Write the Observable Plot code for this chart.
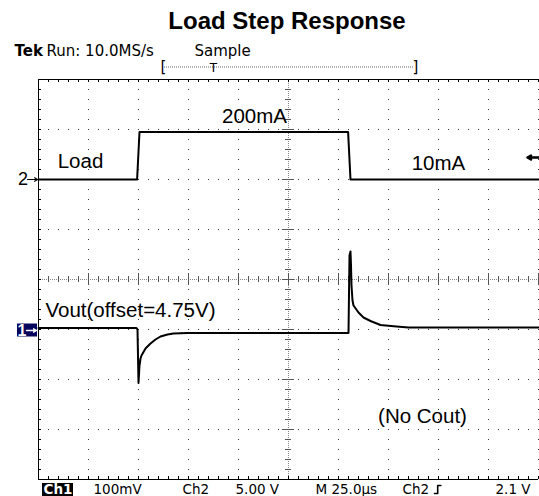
<!DOCTYPE html>
<html>
<head>
<meta charset="utf-8">
<script src="https://cdn.jsdelivr.net/npm/d3@7"></script>
<script src="https://cdn.jsdelivr.net/npm/@observablehq/plot@0.6"></script>
<style>
  html, body { margin: 0; padding: 0; background: #fff; }
  #title { box-sizing: border-box; width: 539px; height: 40px; padding-left: 35px; text-align: center;
           font: bold 24px "Liberation Sans", Arial, sans-serif; line-height: 42px; color: #000; }
  svg { display: block; }
</style>
</head>
<body>
<div id="title">Load Step Response</div>
<div id="chart"></div>
<script>
// ---- data ----
// time axis: 25 µs/div, 10 divisions
const timeDivs = d3.range(0, 251, 25);
const timeMinor = d3.range(0, 250.01, 5);
const vertDivs = d3.range(-4, 5, 1);
const vertMinor = d3.range(-4, 4.001, 0.2);

// Ch2 (load current, mA)
const loadTime = [0, 49.3, 50.5, 154.8, 156, 250];
const loadMA   = [10, 10, 200, 200, 10, 10];
const ch2Marker = 2;        // divisions
const ch2PerDiv = 200;      // mA per division
const ch2Ref = 10;          // mA at marker

// Ch1 (Vout, mV relative to 4.75 V offset)
const voutTime = [0, 49, 49.5, 50, 50.5, 51, 51.5, 53.5, 56, 58.5, 61, 64.5, 67.5, 74.5,
                  155, 155.5, 156, 156.25, 156.5, 157, 157.5, 160, 162.5, 166, 171, 179, 185, 250];
const voutMV   = [5, 5, 2, -105, -70, -56, -50, -36, -26, -18, -12, -8, -6, -5,
                  -5, 150, 158, 130, 90, 60, 50, 36, 26, 19, 11, 8, 6, 6];
const ch1Marker = -1.02;    // divisions
const ch1PerDiv = 100;      // mV per division
const trigLevel = 2.44;     // divisions (Ch2 2.1 V)

const load = loadTime.map((t, i) => ({t, v: ch2Marker + (loadMA[i] - ch2Ref) / ch2PerDiv}));
const vout = voutTime.map((t, i) => ({t, v: ch1Marker + voutMV[i] / ch1PerDiv}));

const centerLabels = [
  {t: 21, v: 2.36, text: "Load"},
  {t: 108, v: 3.26, text: "200mA"},
  {t: 200, v: 2.32, text: "10mA"},
  {t: 192, v: -2.74, text: "(No Cout)"}
];
const startLabels = [
  {t: 3.5, v: -0.62, text: "Vout(offset=4.75V)"}
];
const statusItems = [
  {t: 27.5, text: "100mV"},
  {t: 72, text: "Ch2"},
  {t: 98.5, text: "5.00 V"},
  {t: 138.5, text: "M 25.0µs"},
  {t: 182, text: "Ch2"},
  {t: 228.5, text: "2.1 V"}
];
// rising-edge trigger slope symbol after "Ch2"
const slopeSymbol = [
  {t: 198, v: -4.28}, {t: 199.6, v: -4.28}, {t: 199.6, v: -4.12}, {t: 201.2, v: -4.12}
];
const headerItems = [
  {t: 4, text: "Run: 10.0MS/s"},
  {t: 78, text: "Sample"}
];

const monoFont = "DejaVu Sans, Verdana, sans-serif";
const sansFont = "Liberation Sans, Arial, sans-serif";

const chart = Plot.plot({
  width: 539,
  height: 456,
  marginTop: 39,
  marginBottom: 17,
  marginLeft: 38,
  marginRight: 1,
  x: {domain: [0, 250], axis: null},
  y: {domain: [-4, 4], axis: null},
  style: {background: "#fff", fontFamily: sansFont, overflow: "visible"},
  marks: [
    // dotted graticule
    Plot.ruleX(timeDivs, {stroke: "#333", strokeDasharray: "1,9"}),
    Plot.ruleY(vertDivs, {stroke: "#333", strokeDasharray: "1,9"}),
    // center crosshair
    Plot.ruleX([125], {stroke: "#888", strokeDasharray: "1,1"}),
    Plot.ruleY([0], {stroke: "#888", strokeDasharray: "1,1"}),
    Plot.ruleX(timeMinor, {y1: -0.06, y2: 0.06, stroke: "#555"}),
    Plot.ruleX(timeDivs, {y1: -0.12, y2: 0.12, stroke: "#555"}),
    Plot.ruleY(vertMinor, {x1: 123.5, x2: 126.5, stroke: "#555"}),
    Plot.ruleY(vertDivs, {x1: 122, x2: 128, stroke: "#555"}),
    // border with ticks
    Plot.ruleX(timeMinor, {y1: 4, y2: 3.94, stroke: "#000"}),
    Plot.ruleX(timeMinor, {y1: -4, y2: -3.94, stroke: "#000"}),
    Plot.ruleY(vertMinor, {x1: 0, x2: 1.5, stroke: "#000"}),
    Plot.ruleX([0], {stroke: "#000"}),
    Plot.ruleY([4, -4], {stroke: "#000"}),
    // traces
    Plot.line(load, {x: "t", y: "v", stroke: "#000", strokeWidth: 2}),
    Plot.line(vout, {x: "t", y: "v", stroke: "#000", strokeWidth: 2}),
    // channel markers
    Plot.text(["2"], {x: -7.75, y: ch2Marker, text: d => d, fontSize: 18, fill: "#000"}),
    Plot.arrow([0], {x1: -5.5, x2: -0.5, y1: ch2Marker, y2: ch2Marker, headLength: 5, strokeWidth: 1.2, stroke: "#000"}),
    Plot.rect([0], {x1: -10.5, x2: -0.5, y1: ch1Marker - 0.13, y2: ch1Marker + 0.13, fill: "#06065e"}),
    Plot.text(["1"], {x: -8.25, y: ch1Marker, text: d => d, fontSize: 16, fontWeight: "bold", fill: "#fff"}),
    Plot.arrow([0], {x1: -6, x2: -1, y1: ch1Marker, y2: ch1Marker, headLength: 5, strokeWidth: 1.4, stroke: "#fff"}),
    // trigger level arrow
    Plot.arrow([0], {x1: 250.5, x2: 244.5, y1: trigLevel, y2: trigLevel, headLength: 8, strokeWidth: 2.5, stroke: "#000"}),
    // annotations
    Plot.text(centerLabels, {x: "t", y: "v", text: "text", textAnchor: "middle", fontSize: 20.5, fill: "#000"}),
    Plot.text(startLabels, {x: "t", y: "v", text: "text", textAnchor: "start", fontSize: 20.5, fill: "#000"}),
    // header line
    Plot.text(["Tek"], {x: -12, y: 4.56, text: d => d, textAnchor: "start", fontSize: 15, fontWeight: "bold", fontFamily: monoFont, fill: "#000"}),
    Plot.text(headerItems, {x: "t", y: 4.56, text: "text", textAnchor: "start", fontSize: 15, fontFamily: monoFont, fill: "#000", letterSpacing: 1.2}),
    // record bracket
    Plot.ruleY([4.25], {x1: 63, x2: 188, stroke: "#666", strokeDasharray: "1,1"}),
    Plot.text(["["], {x: 62.5, y: 4.25, text: d => d, fontSize: 15, fontFamily: monoFont, fill: "#000"}),
    Plot.text(["]"], {x: 188.5, y: 4.25, text: d => d, fontSize: 15, fontFamily: monoFont, fill: "#000"}),
    Plot.text(["T"], {x: 87.5, y: 4.23, text: d => d, fontSize: 12, fontFamily: monoFont, fill: "#000"}),
    // status line
    Plot.rect([0], {x1: 2, x2: 17.5, y1: -4.08, y2: -4.34, fill: "#000"}),
    Plot.text(["Ch1"], {x: 9.75, y: -4.2, text: d => d, fontSize: 13.5, fontWeight: "bold", fontFamily: monoFont, fill: "#fff"}),
    Plot.text(statusItems, {x: "t", y: -4.2, text: "text", textAnchor: "start", fontSize: 13.5, fontFamily: monoFont, fill: "#000", letterSpacing: 0.8}),
    Plot.line(slopeSymbol, {x: "t", y: "v", stroke: "#000", strokeWidth: 1.6})
  ]
});
document.getElementById("chart").appendChild(chart);
</script>
</body>
</html>
